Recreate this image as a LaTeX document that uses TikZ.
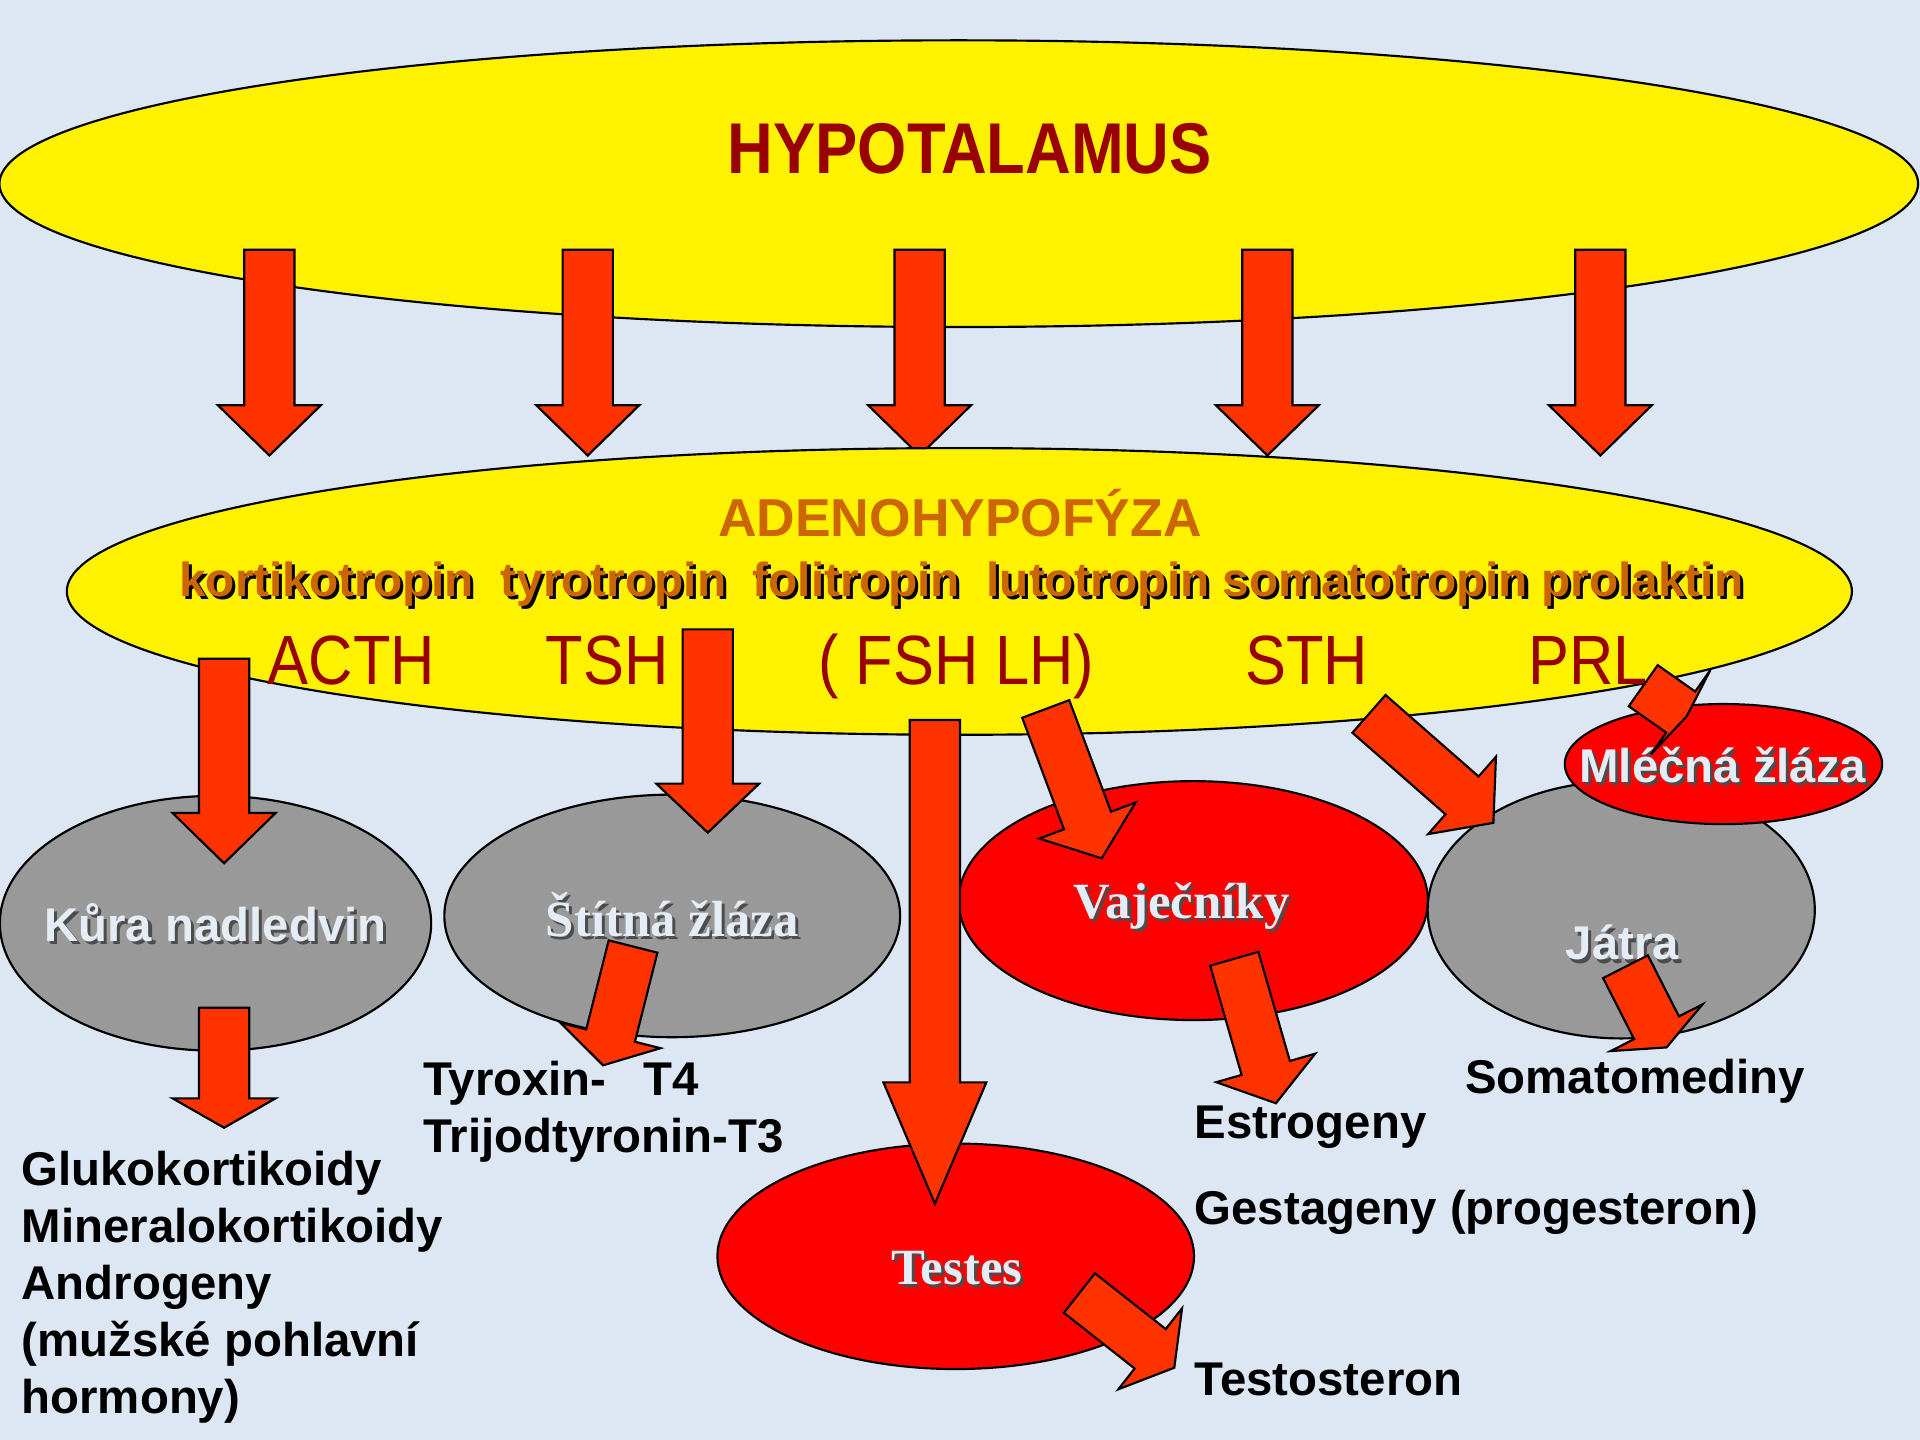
\documentclass[tikz,border=0pt]{standalone}
\usepackage{fontspec}
\setmainfont{Liberation Sans}
\newfontfamily\narrowsf[FakeStretch=0.88]{Liberation Sans}
\newfontfamily\serifface{Liberation Serif}
\usepackage{xcolor}
\definecolor{bgblue}{HTML}{DCE7F3}
\definecolor{gland}{HTML}{999999}
\definecolor{arrowred}{HTML}{FF3300}
\definecolor{darkred}{HTML}{990000}
\definecolor{ochre}{HTML}{CC6600}
\definecolor{paletext}{HTML}{E4ECF6}
\usetikzlibrary{shapes.geometric,calc}

% text with a small drop shadow
\newcommand\shadowed[2][black]{%
  \makebox[0pt][l]{\kern0.025cm\raisebox{-0.025cm}{\textcolor{#1}{#2}}}#2}
% block arrow: tail, tip, head length
\newcommand\blockarrow[3]{%
  \coordinate (hb) at ($(#2)!#3!(#1)$);
  \draw[bigarrow] ($(#1)!0.205cm!90:(#2)$) -- ($(hb)!0.205cm!-90:(#1)$)
    -- ($(hb)!0.42cm!-90:(#1)$) -- (#2) -- ($(hb)!0.42cm!90:(#1)$)
    -- ($(hb)!0.205cm!90:(#1)$) -- ($(#1)!0.205cm!-90:(#2)$) -- cycle;}

\begin{document}
\begin{tikzpicture}[
  x=0.01cm, y=-0.01cm,
  organ/.style={ellipse,draw=black,line width=0.5pt,inner sep=0pt},
  bigarrow/.style={draw=black,line width=0.5pt,fill=arrowred,line join=miter},
  glandtxt/.style={anchor=base,inner sep=0pt,text=paletext,
                   font=\bfseries\fontsize{11pt}{13pt}\selectfont},
  glandserif/.style={glandtxt,font=\serifface\bfseries\fontsize{11.8pt}{14pt}\selectfont},
  hormone/.style={anchor=base west,inner sep=0pt,align=left,
                  font=\bfseries\fontsize{11pt}{13.2pt}\selectfont},
  abbrev/.style={anchor=base,inner sep=0pt,text=darkred,
                 font=\narrowsf\fontsize{16.2pt}{19pt}\selectfont},
]
  \fill[bgblue] (0,0) rectangle (1568,1176);
  \useasboundingbox (0,0) rectangle (1568,1176);

  % hypothalamus
  \node[organ,fill=yellow,minimum width=15.66cm,minimum height=2.34cm] (hypo) at (783,150) {};
  \node[anchor=base,text=darkred,font=\narrowsf\bfseries\fontsize{16.7pt}{20pt}\selectfont]
    (hypo-t) at (792,142) {HYPOTALAMUS};

  \foreach \x [count=\i] in {220,480,751,1035,1307}{
    \coordinate (rh\i-s) at (\x,204);
    \coordinate (rh\i-e) at (\x,372);
    \blockarrow{rh\i-s}{rh\i-e}{0.41cm}
  }

  % adenohypophysis
  \node[organ,fill=yellow,minimum width=14.57cm,minimum height=2.34cm] (adeno) at (783.5,483) {};
  \node[anchor=base,text=ochre,font=\bfseries\fontsize{12.4pt}{15pt}\selectfont]
    (adeno-t) at (784,438) {ADENOHYPOFÝZA};
  \node[anchor=base,text=ochre,font=\bfseries\fontsize{11.1pt}{13pt}\selectfont]
    (tropins) at (785,487)
    {\shadowed{kortikotropin\ \ tyrotropin\ \ folitropin\ \ lutotropin somatotropin prolaktin}};
  \node[abbrev] (acth) at (287,559) {ACTH};
  \node[abbrev] (tsh) at (496,559) {TSH};
  \node[abbrev] (fshlh) at (781,559) {( FSH LH)};
  \node[abbrev] (sth) at (1067,559) {STH};
  \node[abbrev] (prl) at (1297,559) {PRL};

  % target glands
  \node[organ,fill=gland,minimum width=3.52cm,minimum height=2.08cm] (kura) at (176,754) {};
  \node[organ,fill=gland,minimum width=3.72cm,minimum height=1.98cm] (stitna) at (549,748) {};
  \node[organ,fill=red,minimum width=3.83cm,minimum height=1.95cm] (vajec) at (974.5,735.5) {};
  \node[organ,fill=red,minimum width=3.89cm,minimum height=1.84cm] (testes) at (780.5,1026) {};
  \node[organ,fill=gland,minimum width=3.16cm,minimum height=2.10cm] (jatra) at (1324,743) {};
  \node[organ,fill=red,minimum width=2.59cm,minimum height=0.98cm] (mlecna) at (1407.5,624) {};

  \node[glandtxt] (kura-t) at (176,769) {\shadowed[black!70]{Kůra nadledvin}};
  \node[glandserif] (stitna-t) at (549,765) {\shadowed[black!70]{Štítná žláza}};
  \node[glandserif] (vajec-t) at (965,750) {\shadowed[black!70]{Vaječníky}};
  \node[glandserif] (testes-t) at (781.5,1049) {\shadowed[black!70]{Testes}};
  \node[glandtxt] (jatra-t) at (1325,784) {\shadowed[black!70]{Játra}};
  \node[glandtxt] (mlecna-t) at (1407,639) {\shadowed[black!70]{Mléčná žláza}};

  % hormone arrows
  \coordinate (acth-s) at (183,538);   \coordinate (acth-e) at (183,705);
  \coordinate (tsh-s) at (578,514);    \coordinate (tsh-e) at (578,680);
  \coordinate (fsh-s) at (763.5,588);  \coordinate (fsh-e) at (763.5,983);
  \coordinate (lh-s) at (854,579);     \coordinate (lh-e) at (899.7,701);
  \coordinate (sth-s) at (1118,583);   \coordinate (sth-e) at (1219.6,672);
  \coordinate (prl-s) at (1342,560);   \coordinate (prl-e) at (1377.5,585);
  \coordinate (kura-s) at (183,823);   \coordinate (kura-e) at (183,921);
  \coordinate (stitna-s) at (517,773); \coordinate (stitna-e) at (492.5,870);
  \coordinate (vajec-s) at (1008,783); \coordinate (vajec-e) at (1042,901);
  \coordinate (jatra-s) at (1327.5,789.5); \coordinate (jatra-e) at (1361,855.4);
  \coordinate (testes-s) at (881.5,1056);  \coordinate (testes-e) at (959,1117);

  \blockarrow{acth-s}{acth-e}{0.41cm}
  \blockarrow{tsh-s}{tsh-e}{0.40cm}
  \blockarrow{fsh-s}{fsh-e}{0.99cm}
  \blockarrow{lh-s}{lh-e}{0.33cm}
  \blockarrow{sth-s}{sth-e}{0.34cm}
  \blockarrow{prl-s}{prl-e}{0.06cm}
  \blockarrow{kura-s}{kura-e}{0.24cm}
  \blockarrow{stitna-s}{stitna-e}{0.25cm}
  \blockarrow{vajec-s}{vajec-e}{0.30cm}
  \blockarrow{jatra-s}{jatra-e}{0.18cm}
  \blockarrow{testes-s}{testes-e}{0.25cm}

  % hormones (base = last line)
  \node[hormone] (gluko) at (17,1154)
    {Glukokortikoidy\\Mineralokortikoidy\\Androgeny\\(mužské pohlavní\\hormony)};
  \node[hormone] (tyrox) at (345,941) {Tyroxin-\hspace{0.3cm}T4\\Trijodtyronin-T3};
  \node[hormone] (somato) at (1196,893) {Somatomediny};
  \node[hormone] (estro) at (975,930) {Estrogeny};
  \node[hormone] (gesta) at (975,1000) {Gestageny (progesteron)};
  \node[hormone] (testo) at (975,1140) {Testosteron};
\end{tikzpicture}
\end{document}
